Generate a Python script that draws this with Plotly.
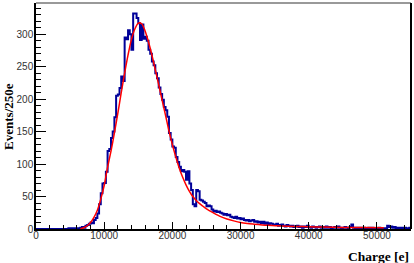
import plotly.graph_objects as go

# ---- data ----
bin_width = 250  # electrons per bin
counts = [
    0, 0, 0, 0, 0, 0, 0, 0, 0, 0, 0, 0, 0, 0, 0, 0, 0, 0, 0,
    1, 0, 1, 0, 1, 1, 0, 2, 3, 2, 5, 6, 8, 10, 9, 14, 17, 24, 38, 55, 70,
    71, 88, 120, 123, 140, 150, 172, 205, 207, 217, 235, 228, 295, 292, 306, 300, 276, 332, 332, 325,
    317, 291, 315, 293, 296, 290, 276, 270, 258, 252, 240, 232, 218, 208, 199, 188, 183, 173, 148, 138,
    127, 125, 111, 103, 96, 89, 91, 88, 76, 89, 70, 60, 38, 35, 60, 58, 45, 44, 42, 40,
    35, 36, 35, 30, 27, 28, 26, 27, 25, 24, 22, 23, 21, 22, 19, 18, 17, 19, 16, 17,
    15, 16, 14, 13, 14, 12, 13, 14, 11, 12, 10, 11, 9, 11, 8, 10, 7, 9, 8, 6,
    7, 8, 5, 6, 7, 5, 4, 6, 5, 4, 5, 3, 4, 5, 3, 4, 2, 4, 3, 5,
    3, 2, 4, 3, 2, 3, 4, 2, 3, 2, 4, 2, 3, 1, 2, 3, 2, 4, 2, 1,
    2, 3, 2, 1, 3, 7, 2, 1, 2, 1, 2, 1, 2, 1, 1, 2, 1, 2, 1, 1,
    1, 2, 0, 1, 0, 1, 5, 3, 4, 2, 3, 1, 2, 1, 2, 1, 2, 1, 1, 2,
]

fit_x = [6500, 7000, 7500, 8000, 8500, 9000, 9500, 10000, 10500, 11000,
         11500, 12000, 12500, 13000, 13500, 14000, 14500, 15000, 15500, 16000,
         16500, 17000, 17500, 18000, 18500, 19000, 19500, 20000, 20500, 21000,
         21500, 22000, 22500, 23000, 23500, 24000, 24500, 25000, 26000, 27000,
         28000, 29000, 30000, 31000, 32000, 34000, 36000, 38000, 40000, 42000,
         45000, 48000, 51000]
fit_y = [0.5, 2, 5, 10, 18, 29, 46, 67, 95, 120,
         148, 178, 210, 240, 268, 292, 308, 317, 316, 305,
         288, 268, 245, 222, 198, 175, 151, 130, 111, 94,
         80, 68, 58, 50, 44, 39, 35, 31, 25, 19.5,
         15.5, 12.5, 10, 8.5, 7.5, 5.8, 4.8, 4, 3.5, 3,
         2.5, 2.2, 2]

x_ticks = [0, 10000, 20000, 30000, 40000, 50000]
y_ticks = [0, 50, 100, 150, 200, 250, 300]

# histogram outline (left edges + final right edge)
edges = [i * bin_width for i in range(len(counts) + 1)]
step_y = counts + [counts[-1]]

fig = go.Figure()
fig.add_trace(go.Scatter(
    x=edges, y=step_y, mode="lines", line_shape="hv",
    line=dict(color="#000099", width=2), hoverinfo="skip", showlegend=False))
fig.add_trace(go.Scatter(
    x=fit_x, y=fit_y, mode="lines", line_shape="spline",
    line=dict(color="#ff0000", width=1.5, smoothing=0.8), hoverinfo="skip", showlegend=False))

tick_font = dict(family="Liberation Sans, Arial, sans-serif", size=10, color="#333333")
title_font = dict(family="Liberation Serif, Times New Roman, serif", size=13, color="#000000")

fig.update_layout(
    width=414, height=263,
    margin=dict(l=36, r=3, t=3, b=34, autoexpand=False),
    paper_bgcolor="white", plot_bgcolor="white",
    xaxis=dict(range=[0, 55000], tickvals=x_ticks, ticktext=[str(v) for v in x_ticks],
               ticks="inside", ticklen=7, tickwidth=1, tickcolor="#000000",
               minor=dict(ticks="inside", ticklen=4, dtick=2000, tickcolor="#000000", tick0=0),
               showline=True, linecolor="#000000", linewidth=1.5, mirror=False,
               showgrid=False, zeroline=False, tickfont=tick_font, automargin=False,
               ticklabelstandoff=-4),
    yaxis=dict(range=[0, 348], tickvals=y_ticks, ticktext=[str(v) for v in y_ticks],
               ticks="inside", ticklen=10, tickwidth=1, tickcolor="#000000",
               minor=dict(ticks="inside", ticklen=5, dtick=10, tickcolor="#000000", tick0=0),
               showline=True, linecolor="#000000", linewidth=1.5, mirror=False,
               showgrid=False, zeroline=False, tickfont=tick_font, automargin=False,
               ticklabelstandoff=-1),
    shapes=[
        dict(type="line", xref="paper", yref="paper", x0=0, x1=1, y0=1, y1=1,
             line=dict(color="#999999", width=2)),
        dict(type="line", xref="paper", yref="paper", x0=1, x1=1, y0=0, y1=1,
             line=dict(color="#000000", width=2)),
    ],
    annotations=[
        dict(text="<b>Events/250e</b>", xref="paper", yref="paper", x=-0.075, y=0.5,
             xanchor="center", yanchor="middle", textangle=-90, showarrow=False,
             font=title_font),
        dict(text="<b>Charge [e]</b>", xref="paper", yref="paper", x=1.0, y=-0.08,
             xanchor="right", yanchor="top", showarrow=False,
             font=dict(family="Liberation Serif, Times New Roman, serif", size=13.5, color="#000000")),
    ],
)

fig.write_html("out.html", config={"displayModeBar": False},
               post_script="document.body.style.margin='0';document.body.style.overflow='hidden';")
